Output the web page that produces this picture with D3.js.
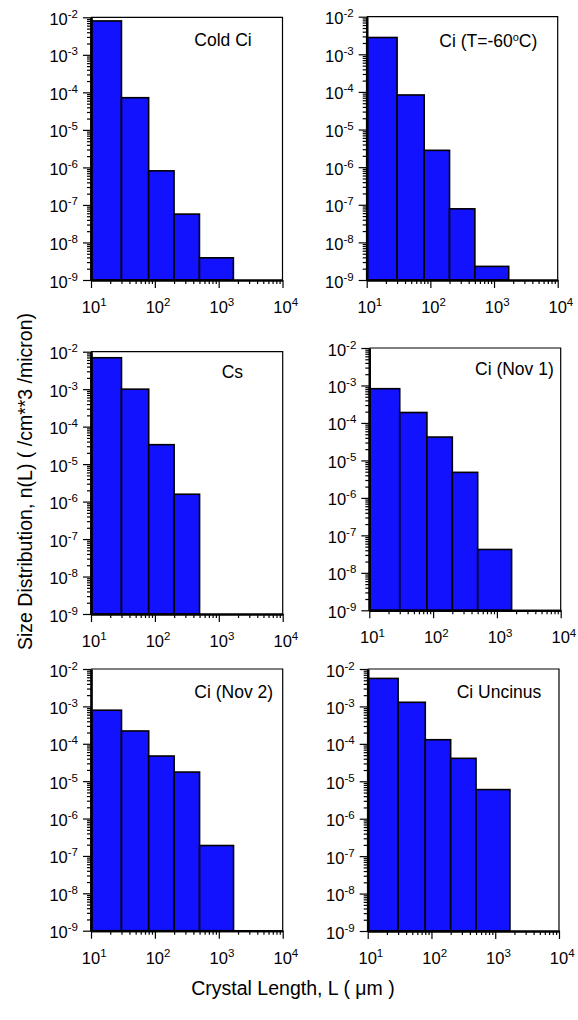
<!DOCTYPE html>
<html><head><meta charset="utf-8">
<script src="https://cdn.jsdelivr.net/npm/d3@7"></script>
<style>body{margin:0;background:#fff} text{font-family:"Liberation Sans",Arial,sans-serif;fill:#000}</style>
</head><body><svg id="c" width="578" height="1020"></svg>
<script>
// ---- data ----
const binEdges = [10, 30, 80, 200, 500, 1700];           // crystal length bin edges (µm)
const coldCi   = [8.0e-3, 7.2e-5, 8.1e-7, 5.7e-8, 3.9e-9];
const ciT60    = [2.8e-3, 8.3e-5, 2.8e-6, 7.8e-8, 2.3e-9];
const cs       = [6.9e-3, 1.0e-3, 3.3e-5, 1.57e-6];
const ciNov1   = [8.2e-4, 1.9e-4, 4.2e-5, 4.8e-6, 4.2e-8];
const ciNov2   = [7.9e-4, 2.2e-4, 4.7e-5, 1.75e-5, 1.9e-7];
const ciUncinus= [5.6e-3, 1.29e-3, 1.29e-4, 4.1e-5, 6.0e-6];
const seriesList = [coldCi, ciT60, cs, ciNov1, ciNov2, ciUncinus];
const panelTitles = [
  [["Cold Ci"]],
  [["Ci (T=-60"], ["o", "sup"], ["C)"]],
  [["Cs"]],
  [["Ci (Nov 1)"]],
  [["Ci (Nov 2)"]],
  [["Ci Uncinus"]]
];
const xTickExps = [1, 2, 3, 4];
const yTickExps = [-2, -3, -4, -5, -6, -7, -8, -9];
const xDomain = [10, 1e4];
const yDomain = [1e-9, 1e-2];
const xLabel = "Crystal Length, L ( \u03bcm )";
const yLabel = "Size Distribution, n(L) ( /cm**3 /micron)";

// ---- layout ----
const layout = [
  {x0: 91,    x1: 282.5, y0: 17.3,  y1: 280,   tx: 194.3, ty: 46},
  {x0: 366.7, x1: 557.7, y0: 16.7,  y1: 280,   tx: 439.3, ty: 46.7},
  {x0: 91,    x1: 282.7, y0: 351.7, y1: 614,   tx: 221.7, ty: 378.3},
  {x0: 369.3, x1: 560.7, y0: 348,   y1: 610.3, tx: 475,   ty: 375},
  {x0: 91,    x1: 282.7, y0: 669,   y1: 930.7, tx: 194.3, ty: 698.3},
  {x0: 367.7, x1: 559,   y0: 669,   y1: 931,   tx: 456.7, ty: 698.3}
];
const BAR = "#1212ff";
const svg = d3.select("#c");

function minorVals(lo, hi) {
  const out = [];
  for (let e = lo; e < hi; e++) for (let m = 2; m <= 9; m++) out.push(m * Math.pow(10, e));
  return out;
}

seriesList.forEach((vals, i) => {
  const L = layout[i];
  const x = d3.scaleLog().domain(xDomain).range([L.x0, L.x1]);
  const y = d3.scaleLog().domain(yDomain).range([L.y1, L.y0]);
  const g = svg.append("g");

  // frame top/right
  g.append("path")
    .attr("d", `M${L.x0},${L.y0}H${L.x1}V${L.y1}`)
    .attr("fill", "none").attr("stroke", "#000").attr("stroke-width", 1.2);

  // bars
  g.selectAll("rect.bar").data(vals).enter().append("rect")
    .attr("x", (d, j) => x(binEdges[j]))
    .attr("width", (d, j) => x(binEdges[j + 1]) - x(binEdges[j]))
    .attr("y", d => y(d))
    .attr("height", d => y(yDomain[0]) - y(d))
    .attr("fill", BAR).attr("stroke", "#000").attr("stroke-width", 1.6);

  // x axis
  const xa = g.append("g").attr("transform", `translate(0,${L.y1})`);
  xa.call(d3.axisBottom(x).tickValues(minorVals(1, 4)).tickSize(4).tickSizeOuter(0).tickFormat(""));
  xa.append("g").call(d3.axisBottom(x).tickValues(xTickExps.map(e => Math.pow(10, e))).tickSize(8).tickSizeOuter(0).tickFormat(""));
  xa.selectAll("path.domain").attr("stroke-width", 2.2);
  xa.selectAll("line").attr("stroke-width", 1.2);

  // y axis
  const ya = g.append("g").attr("transform", `translate(${L.x0},0)`);
  ya.call(d3.axisLeft(y).tickValues(minorVals(-9, -2)).tickSize(4).tickSizeOuter(0).tickFormat(""));
  ya.append("g").call(d3.axisLeft(y).tickValues(yTickExps.map(e => Math.pow(10, e))).tickSize(8).tickSizeOuter(0).tickFormat(""));
  ya.selectAll("path.domain").attr("stroke-width", 2.2);
  ya.selectAll("line").attr("stroke-width", 1.2);

  // x tick labels
  xTickExps.forEach(e => {
    const t = g.append("text").attr("x", x(Math.pow(10, e)) - 9.2).attr("y", L.y1 + 33)
      .attr("font-size", 16.5);
    t.append("tspan").text("10");
    t.append("tspan").attr("dy", -6.8).attr("font-size", 11.5).text(e);
  });
  // y tick labels
  yTickExps.forEach(e => {
    const t = g.append("text").attr("x", L.x0 - 13).attr("y", y(Math.pow(10, e)) + 7.5)
      .attr("text-anchor", "end").attr("font-size", 16.5);
    t.append("tspan").text("10");
    t.append("tspan").attr("dy", -7).attr("font-size", 11.5).text(e);
  });

  // title
  const tt = g.append("text").attr("x", L.tx).attr("y", L.ty).attr("font-size", 17.5);
  panelTitles[i].forEach((p, k) => {
    if (p[1] === "sup") tt.append("tspan").attr("dy", -6).attr("font-size", 11).text(p[0]);
    else tt.append("tspan").attr("dy", k > 0 ? 6 : 0).text(p[0]);
  });
});

// axis titles
svg.append("text").attr("x", 293).attr("y", 995).attr("text-anchor", "middle")
  .attr("font-size", 19.5).text(xLabel);
svg.append("text").attr("transform", "translate(32,481.5) rotate(-90)").attr("text-anchor", "middle")
  .attr("font-size", 19.5).text(yLabel);
</script></body></html>
